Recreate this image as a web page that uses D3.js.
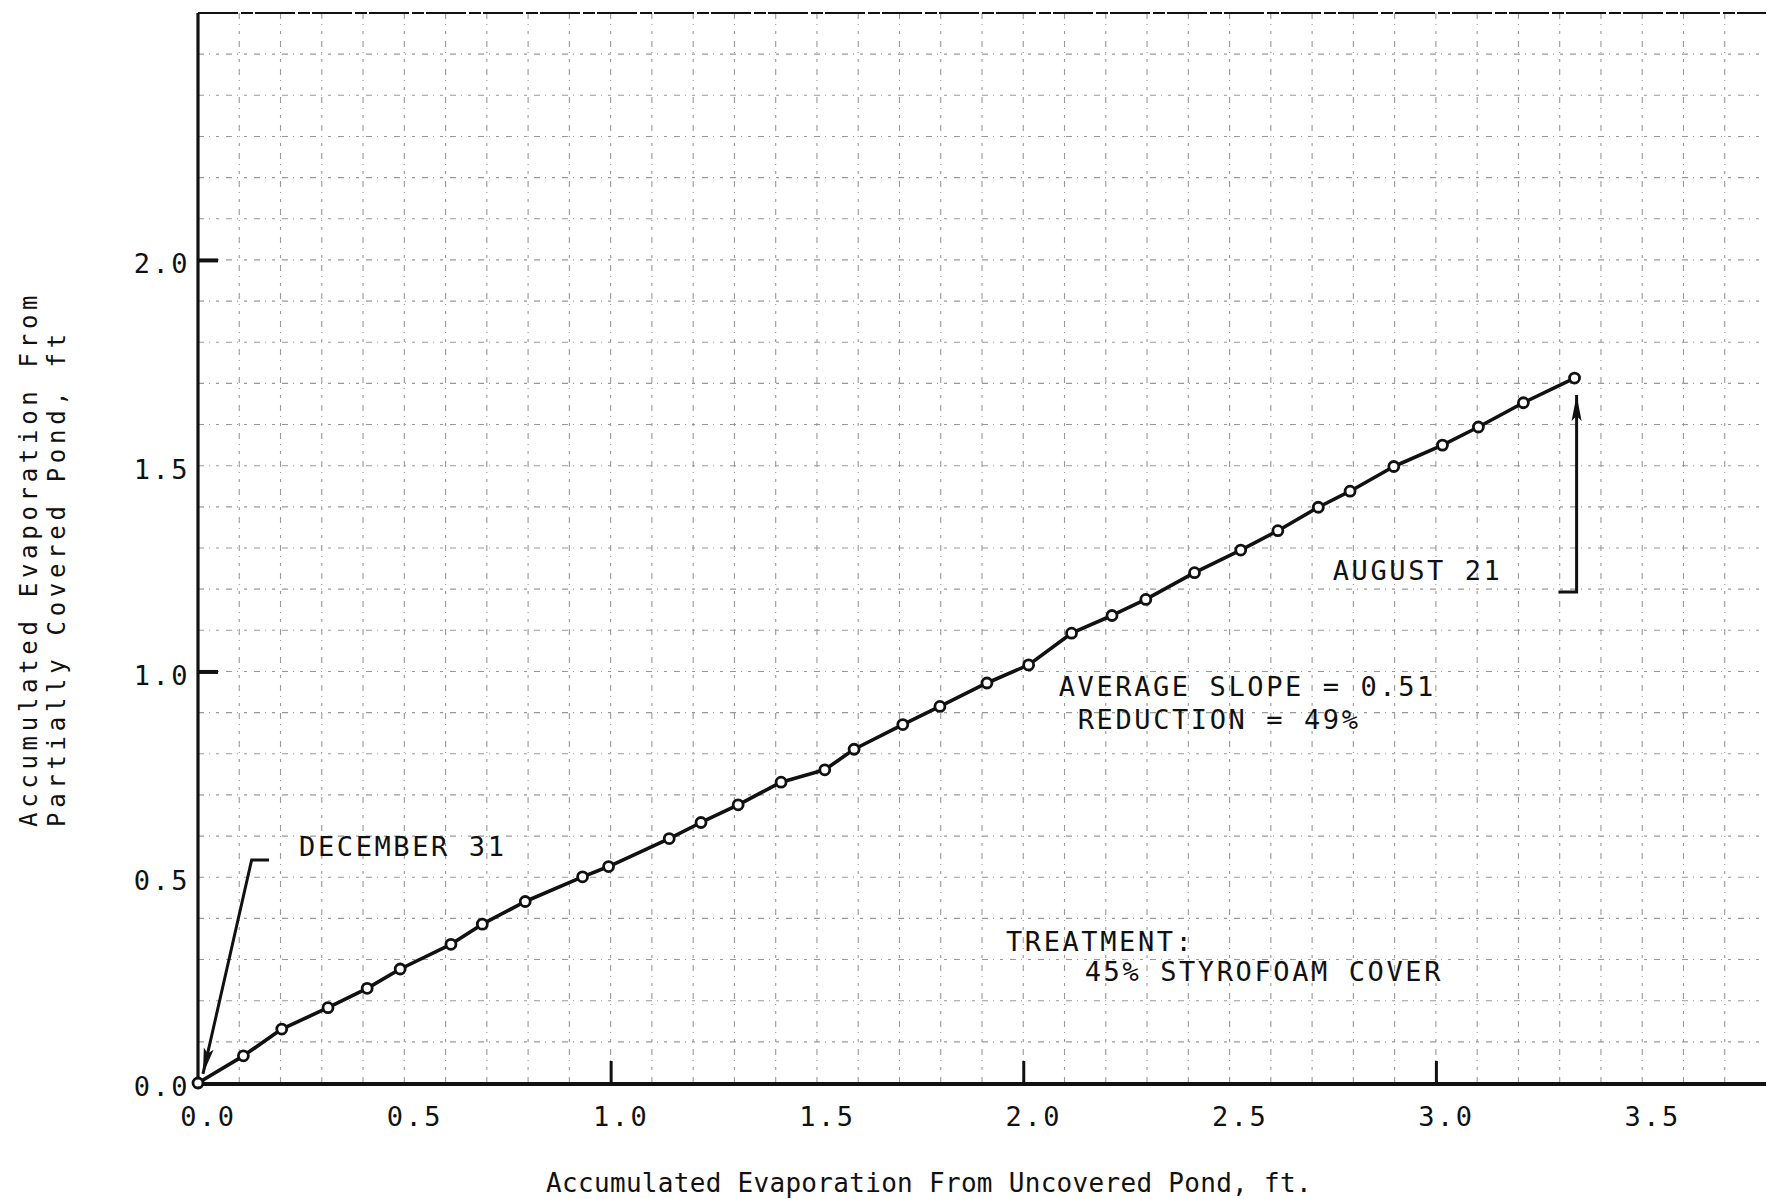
<!DOCTYPE html>
<html>
<head>
<meta charset="utf-8">
<script src="https://cdn.jsdelivr.net/npm/d3@7"></script>
<style>
  body { margin: 0; background: #fff; }
  svg { display: block; }
  text { font-family: "DejaVu Sans Mono", monospace; fill: #111; }
</style>
</head>
<body>
<div id="chart"></div>
<script>
// Accumulated evaporation, ft
var evapUncovered = [0, 0.110, 0.203, 0.315, 0.410, 0.490, 0.613, 0.689, 0.793, 0.932, 0.995,
    1.142, 1.219, 1.309, 1.413, 1.519, 1.590, 1.708, 1.798, 1.912, 2.013, 2.117, 2.215, 2.297,
    2.415, 2.527, 2.617, 2.715, 2.792, 2.898, 3.016, 3.103, 3.212, 3.336];
var evapCovered = [0, 0.066, 0.131, 0.183, 0.230, 0.277, 0.337, 0.386, 0.441, 0.501, 0.526,
    0.594, 0.633, 0.676, 0.731, 0.761, 0.811, 0.871, 0.915, 0.972, 1.016, 1.093, 1.136, 1.175,
    1.240, 1.295, 1.342, 1.399, 1.438, 1.498, 1.550, 1.594, 1.653, 1.713];

var xTickLabels = [0, 0.5, 1, 1.5, 2, 2.5, 3, 3.5];
var yTickLabels = [0, 0.5, 1, 1.5, 2];
var xTickMarks = [1, 2, 3];
var yTickMarks = [1, 2];

var xTitle = "Accumulated Evaporation From Uncovered Pond, ft.";
var yTitle = ["Accumulated Evaporation From", "Partially Covered Pond, ft"];
var notes = ["DECEMBER 31", "AUGUST 21", "AVERAGE SLOPE = 0.51", "REDUCTION = 49%",
    "TREATMENT:", "45% STYROFOAM COVER"];

var W = 1767, H = 1199;
var svg = d3.select("#chart").append("svg")
    .attr("width", W)
    .attr("height", H)
    .style("background-color", "#fff");

var x = d3.scaleLinear().domain([0, 3.8]).range([198, 1766]);
var y = d3.scaleLinear().domain([0, 2.6]).range([1083, 13]);

//graph paper grid, every 0.1 ft (scanned, so it is broken and faint)
var gx = d3.range(1, 38).map(function(i) { return i / 10; });
var gy = d3.range(1, 26).map(function(i) { return i / 10; });
var grid = svg.append("g")
    .attr("stroke", "#555")
    .attr("stroke-width", 1.1)
    .attr("stroke-dasharray", "6,5,1,6,3,7")
    .attr("opacity", 0.6);
grid.selectAll(".gv").data(gx).enter().append("line")
    .attr("x1", function(d) { return x(d); })
    .attr("x2", function(d) { return x(d); })
    .attr("y1", y(2.6)).attr("y2", y(0));
grid.selectAll(".gh").data(gy).enter().append("line")
    .attr("y1", function(d) { return y(d); })
    .attr("y2", function(d) { return y(d); })
    .attr("x1", x(0)).attr("x2", x(3.8));

//frame
svg.append("line")
    .attr("x1", x(0)).attr("x2", x(3.8))
    .attr("y1", y(2.6)).attr("y2", y(2.6))
    .attr("stroke", "#111").attr("stroke-width", 2.2)
    .attr("stroke-dasharray", "40,3,12,2");

//tick marks pointing into the plot
svg.append("g")
    .attr("transform", "translate(0," + y(0) + ")")
    .call(d3.axisBottom(x).tickValues(xTickMarks).tickSize(-22).tickFormat(""))
    .call(function(g) { g.select(".domain").remove(); })
    .selectAll("line").attr("stroke", "#111").attr("stroke-width", 3);
svg.append("g")
    .attr("transform", "translate(" + x(0) + ",0)")
    .call(d3.axisLeft(y).tickValues(yTickMarks).tickSize(-20).tickFormat(""))
    .call(function(g) { g.select(".domain").remove(); })
    .selectAll("line").attr("stroke", "#111").attr("stroke-width", 4);

//axis lines
svg.append("line")
    .attr("x1", x(0)).attr("x2", x(3.8))
    .attr("y1", y(0) + 1).attr("y2", y(0) + 1)
    .attr("stroke", "#111").attr("stroke-width", 4);
svg.append("line")
    .attr("x1", x(0)).attr("x2", x(0))
    .attr("y1", y(2.6)).attr("y2", y(0) + 2)
    .attr("stroke", "#111").attr("stroke-width", 3.2);

//tick labels
var fmt = d3.format(".1f");
var xl = svg.append("g")
    .attr("transform", "translate(10," + (y(0) + 21) + ")")
    .call(d3.axisBottom(x).tickValues(xTickLabels).tickSize(0).tickFormat(fmt));
xl.select(".domain").remove();
xl.selectAll("text")
    .attr("font-family", "DejaVu Sans Mono")
    .attr("font-size", 27)
    .style("letter-spacing", "2.5px")
    .attr("fill", "#111");

var yl = svg.append("g")
    .attr("transform", "translate(" + (x(0) - 5) + ",4)")
    .call(d3.axisLeft(y).tickValues(yTickLabels).tickSize(0).tickFormat(fmt));
yl.select(".domain").remove();
yl.selectAll("text")
    .attr("font-family", "DejaVu Sans Mono")
    .attr("font-size", 27)
    .style("letter-spacing", "2.5px")
    .attr("fill", "#111");

//axis titles
svg.append("text")
    .attr("x", 929).attr("y", 1192)
    .attr("text-anchor", "middle")
    .attr("font-size", 26)
    .style("letter-spacing", "0.3px")
    .text(xTitle);

svg.selectAll(".ytitle").data(yTitle).enter().append("text")
    .attr("transform", function(d, i) { return "translate(" + (37 + i * 28) + ",827) rotate(-90)"; })
    .attr("text-anchor", "start")
    .attr("font-size", 24)
    .style("letter-spacing", "4.7px")
    .text(function(d) { return d; });

//the data line with open circles
var line = d3.line()
    .x(function(d, i) { return x(evapUncovered[i]); })
    .y(function(d) { return y(d); });
svg.append("path")
    .datum(evapCovered)
    .attr("d", line)
    .attr("fill", "none")
    .attr("stroke", "#111")
    .attr("stroke-width", 3.6)
    .attr("stroke-linejoin", "round");
svg.selectAll(".pt").data(evapCovered).enter().append("circle")
    .attr("cx", function(d, i) { return x(evapUncovered[i]); })
    .attr("cy", function(d) { return y(d); })
    .attr("r", 5)
    .attr("fill", "#fff")
    .attr("stroke", "#111")
    .attr("stroke-width", 2.8);

//annotations
var noteSpots = [[0.245, 0.552], [2.750, 1.222], [2.086, 0.940], [2.132, 0.860], [1.958, 0.321], [2.149, 0.248]];
svg.selectAll(".note").data(notes).enter().append("text")
    .attr("x", function(d, i) { return x(noteSpots[i][0]); })
    .attr("y", function(d, i) { return y(noteSpots[i][1]); })
    .attr("font-size", 27)
    .style("letter-spacing", "2.6px")
    .text(function(d) { return d; });

var defs = svg.append("defs");
defs.append("marker")
    .attr("id", "head")
    .attr("markerUnits", "userSpaceOnUse")
    .attr("markerWidth", 30).attr("markerHeight", 16)
    .attr("refX", 26).attr("refY", 6)
    .attr("orient", "auto")
    .append("path")
    .attr("d", "M0,1 L26,6 L0,11 L5,6 Z")
    .attr("fill", "#111");

var arrow = d3.line()
    .x(function(d) { return x(d[0]); })
    .y(function(d) { return y(d[1]); });
svg.append("path")
    .datum([[0.172, 0.542], [0.130, 0.542], [0.012, 0.022]])
    .attr("d", arrow)
    .attr("fill", "none").attr("stroke", "#111").attr("stroke-width", 3)
    .attr("marker-end", "url(#head)");
svg.append("path")
    .datum([[3.297, 1.193], [3.341, 1.193], [3.341, 1.672]])
    .attr("d", arrow)
    .attr("fill", "none").attr("stroke", "#111").attr("stroke-width", 3)
    .attr("marker-end", "url(#head)");
</script>
</body>
</html>
